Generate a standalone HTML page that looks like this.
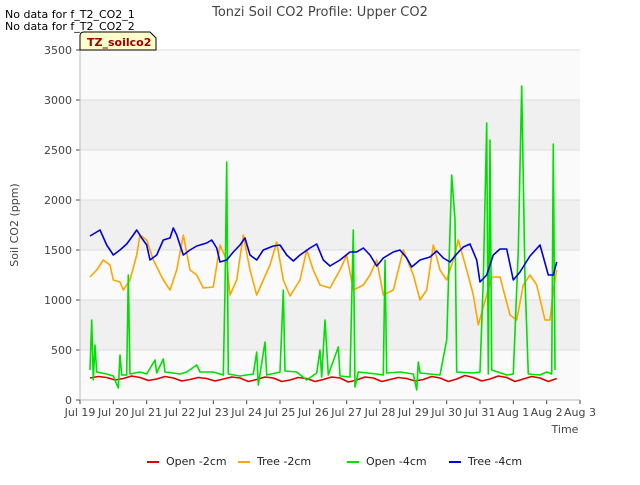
<!DOCTYPE html>
<html><head><meta charset="utf-8"><style>
body{margin:0;background:#fff;font-family:"Liberation Sans","DejaVu Sans",sans-serif;}
svg text{font-family:"DejaVu Sans","Liberation Sans",sans-serif;}
</style></head><body>
<svg id="c" width="640" height="480" viewBox="0 0 640 480">
<text x="320" y="16" text-anchor="middle" font-size="13" fill="#444">Tonzi Soil CO2 Profile: Upper CO2</text>
<text x="5" y="18" font-size="11" fill="#000">No data for f_T2_CO2_1</text>
<text x="5" y="30" font-size="11" fill="#000">No data for f_T2_CO2_2</text>
<g id="plot"></g>
<g>
<path d="M80,50 L80,36 Q80,32 84,32 L150,32 L156,38 L156,50 Z" fill="#ffffcc" stroke="#000" stroke-width="1"/>
<text x="87" y="46" font-size="11" font-weight="bold" fill="#a00000">TZ_soilco2</text>
</g>
<text x="565" y="433" font-size="11" fill="#444" text-anchor="middle">Time</text>
<text x="18" y="225" font-size="11" fill="#444" text-anchor="middle" transform="rotate(-90 18 225)">Soil CO2 (ppm)</text>
<g id="legend"></g>
</svg>
<script>
const yTicks=[0,500,1000,1500,2000,2500,3000,3500];
const xTickLabels=["Jul 19","Jul 20","Jul 21","Jul 22","Jul 23","Jul 24","Jul 25","Jul 26","Jul 27","Jul 28","Jul 29","Jul 30","Jul 31","Aug 1","Aug 2","Aug 3"];
const seriesNames=["Open -2cm","Tree -2cm","Open -4cm","Tree -4cm"];
const seriesColors=["#e00000","#ffa500","#00e000","#0000dd"];
const openShallowDays=[0.3,0.55,0.8,1.05,1.3,1.55,1.8,2.05,2.3,2.55,2.8,3.05,3.3,3.55,3.8,4.05,4.3,4.55,4.8,5.05,5.3,5.55,5.8,6.05,6.3,6.55,6.8,7.05,7.3,7.55,7.8,8.05,8.3,8.55,8.8,9.05,9.3,9.55,9.8,10.05,10.3,10.55,10.8,11.05,11.3,11.55,11.8,12.05,12.3,12.55,12.8,13.05,13.3,13.55,13.8,14.05,14.3];
const openShallowVals=[220,235,225,200,215,240,225,195,210,235,220,190,205,225,215,190,210,230,220,185,205,230,220,185,200,225,215,185,205,230,220,180,200,230,220,185,205,225,215,190,205,235,220,185,210,245,225,190,210,240,225,185,210,235,220,185,215];
const treeShallowDays=[0.3,0.5,0.7,0.9,1.0,1.2,1.3,1.5,1.7,1.8,2.0,2.2,2.5,2.7,2.9,3.1,3.3,3.5,3.7,4.0,4.2,4.4,4.5,4.7,4.9,5.1,5.3,5.5,5.7,5.9,6.1,6.3,6.6,6.8,7.0,7.2,7.5,7.8,8.0,8.2,8.5,8.7,8.9,9.1,9.4,9.7,10.0,10.2,10.4,10.6,10.8,11.0,11.2,11.35,11.6,11.8,11.95,12.2,12.35,12.6,12.9,13.1,13.3,13.5,13.7,13.95,14.1,14.2,14.3];
const treeShallowVals=[1230,1300,1400,1350,1200,1180,1100,1200,1450,1650,1600,1400,1200,1100,1300,1650,1300,1250,1120,1130,1550,1400,1050,1200,1650,1300,1050,1200,1350,1580,1200,1040,1200,1500,1300,1150,1120,1300,1450,1100,1150,1250,1400,1050,1100,1500,1250,1000,1100,1550,1300,1200,1400,1600,1300,1050,750,1050,1230,1230,850,800,1150,1250,1150,800,800,1100,1300];
const openDeepDays=[0.3,0.35,0.4,0.45,0.5,0.8,1.0,1.15,1.2,1.25,1.4,1.45,1.5,1.8,2.0,2.25,2.3,2.5,2.55,3.0,3.2,3.5,3.6,4.0,4.3,4.35,4.4,4.45,4.8,5.2,5.3,5.35,5.55,5.6,6.0,6.1,6.15,6.5,6.8,7.1,7.2,7.25,7.35,7.45,7.75,7.8,8.1,8.2,8.25,8.35,8.9,9.1,9.15,9.2,9.6,10.0,10.1,10.15,10.2,10.8,11.0,11.15,11.25,11.3,11.8,12.0,12.1,12.2,12.25,12.3,12.35,12.8,13.0,13.15,13.25,13.35,13.45,13.8,14.0,14.15,14.2,14.25];
const openDeepVals=[300,800,200,550,280,260,240,120,450,250,250,1250,260,280,260,400,270,410,280,260,280,350,280,280,250,1100,2380,260,240,260,480,150,580,250,280,1100,290,280,200,270,500,230,800,250,530,240,230,1700,130,280,260,250,1400,270,280,260,100,380,270,250,600,2250,1800,280,270,280,1200,2770,260,2600,300,250,260,1500,3140,1200,260,250,280,260,2560,300];
const treeDeepDays=[0.3,0.5,0.6,0.8,1.0,1.2,1.4,1.6,1.7,1.85,2.0,2.1,2.3,2.5,2.7,2.8,2.9,3.1,3.3,3.5,3.8,3.95,4.1,4.2,4.4,4.6,4.8,4.95,5.1,5.3,5.5,5.8,6.0,6.2,6.4,6.6,6.9,7.1,7.3,7.5,7.8,8.1,8.3,8.5,8.7,8.9,9.1,9.4,9.6,9.8,9.95,10.2,10.5,10.7,10.9,11.1,11.3,11.5,11.7,11.9,12.0,12.2,12.4,12.6,12.8,13.0,13.2,13.5,13.8,14.05,14.2,14.3];
const treeDeepVals=[1640,1680,1700,1550,1450,1500,1560,1650,1700,1620,1550,1400,1450,1600,1620,1720,1650,1450,1500,1540,1570,1600,1520,1380,1400,1480,1550,1620,1450,1400,1500,1540,1550,1450,1390,1450,1520,1560,1400,1340,1400,1480,1480,1520,1450,1340,1420,1480,1500,1420,1330,1400,1430,1490,1420,1380,1460,1530,1560,1400,1180,1250,1450,1510,1510,1200,1280,1440,1550,1250,1250,1380];

const X0=80,X1=580,Y0=400,Y1=50,DMAX=15,VMAX=3500;
const xs=d=>X0+d/DMAX*(X1-X0);
const ys=v=>Y0-v/VMAX*(Y0-Y1);
const NS="http://www.w3.org/2000/svg";
const plot=document.getElementById('plot');
function mk(tag,attrs,parent){const e=document.createElementNS(NS,tag);for(const k in attrs)e.setAttribute(k,attrs[k]);parent.appendChild(e);return e;}
mk('rect',{x:X0,y:Y1,width:X1-X0,height:Y0-Y1,fill:'#fafafa'},plot);
for(let i=0;i<yTicks.length-1;i++){
  if(i%2===1){const b=mk('rect',{x:X0,y:ys(yTicks[i+1]),width:X1-X0,height:ys(yTicks[i])-ys(yTicks[i+1]),fill:'#f0f0f0'},plot);
  
  }
}
yTicks.forEach(v=>{
  const l=mk('line',{x1:X0,x2:X1,y1:ys(v),y2:ys(v),stroke:'#dddddd','stroke-width':1},plot);
  
  
  mk('line',{x1:X0-4,x2:X0,y1:ys(v),y2:ys(v),stroke:'#444'},plot);
  const t=mk('text',{x:X0-8,y:ys(v)+4,'text-anchor':'end','font-size':11,fill:'#444'},plot);
  t.textContent=v;
  
  
});
xTickLabels.forEach((s,i)=>{
  mk('line',{x1:xs(i),x2:xs(i),y1:Y0,y2:Y0+4,stroke:'#444'},plot);
  const t=mk('text',{x:xs(i),y:Y0+16,'text-anchor':'middle','font-size':11,fill:'#444'},plot);
  t.textContent=s;
  
  
});
mk('line',{x1:X0,x2:X0,y1:Y1,y2:Y0,stroke:'#bbb'},plot);
mk('line',{x1:X0,x2:X1,y1:Y0,y2:Y0,stroke:'#bbb'},plot);
const series=[[openShallowDays,openShallowVals],[treeShallowDays,treeShallowVals],[openDeepDays,openDeepVals],[treeDeepDays,treeDeepVals]];
const sNames=['series-open-2cm','series-tree-2cm','series-open-4cm','series-tree-4cm'];
series.forEach((s,i)=>{
  const pts=s[0].map((d,j)=>xs(d).toFixed(1)+','+ys(s[1][j]).toFixed(1)).join(' ');
  const p=mk('polyline',{points:pts,fill:'none',stroke:seriesColors[i],'stroke-width':1.6,'stroke-linejoin':'round'},plot);
  
  
});
const lg=document.getElementById('legend');
const lx=[147,238,347,449];
seriesNames.forEach((n,i)=>{
  const g=mk('g',{},lg);
  
  
  mk('line',{x1:lx[i],x2:lx[i]+12,y1:462,y2:462,stroke:seriesColors[i],'stroke-width':2},g);
  const t=mk('text',{x:lx[i]+19,y:465,'font-size':11,fill:'#222'},g);
  t.textContent=n;
});
</script>
</body></html>
